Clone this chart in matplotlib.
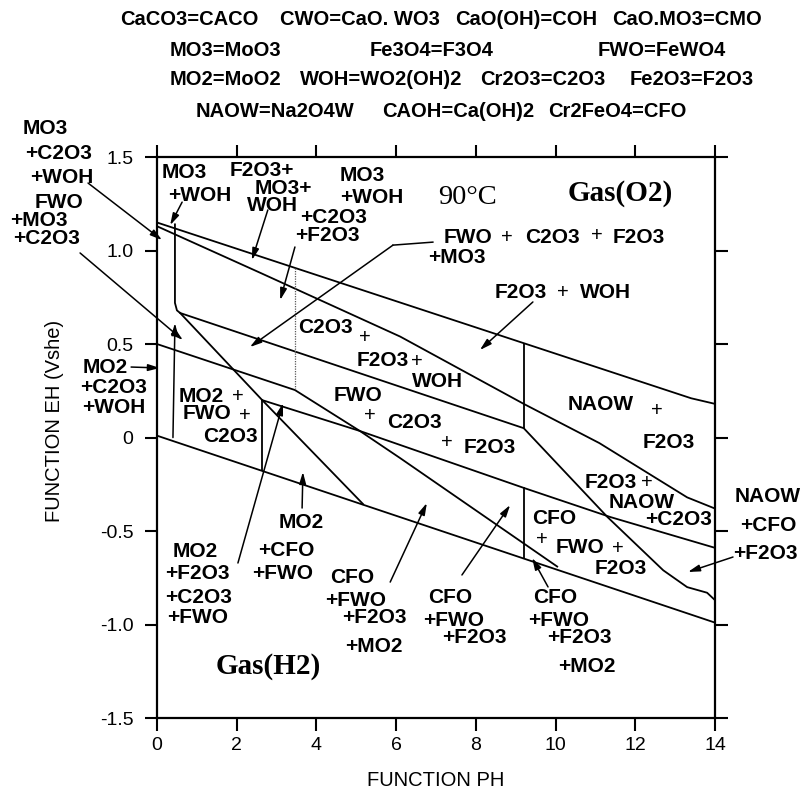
import matplotlib.pyplot as plt

plt.rcParams['font.family'] = ['Liberation Sans', 'DejaVu Sans']

# stability boundaries, pH vs Eh (V)
o2_ph = [0, 13.4, 14]
o2_eh = [1.15, 0.21, 0.18]
h2_ph = [0, 14]
h2_eh = [0.01, -0.99]
woh_ph = [0, 2.6, 6.1, 9.2, 11.1, 13.3, 14]
woh_eh = [1.13, 0.88, 0.54, 0.18, -0.03, -0.32, -0.38]
mo3_ph = [0.45, 0.45, 0.50, 0.58, 9.2, 11.3, 12.7, 13.3, 13.8, 14]
mo3_eh = [1.14, 0.72, 0.68, 0.666, 0.05, -0.425, -0.71, -0.80, -0.83, -0.87]
fwo_ph = [0, 3.46, 5.09, 6.10, 10.04]
fwo_eh = [0.50, 0.254, 0.035, -0.11, -0.69]
mo2_ph = [0.58, 2.64, 5.17]
mo2_eh = [0.666, 0.20, -0.356]
cfo_ph = [2.64, 5.09, 9.21, 11.37, 14]
cfo_eh = [0.20, 0.035, -0.27, -0.425, -0.59]

# vertical boundaries: pH, Eh top, Eh bottom
box_ph, box_eh = 2.64, [0.20, -0.175]
dot_ph, dot_eh = 3.46, [0.906, 0.254]
naow_ph, naow_eh = 9.2, [0.50, 0.05]
cfo2_ph, cfo2_eh = 9.21, [-0.27, -0.645]

xticks = [0, 2, 4, 6, 8, 10, 12, 14]
yticks = [1.5, 1.0, 0.5, 0, -0.5, -1.0, -1.5]
ytick_labels = ['1.5', '1.0', '0.5', '0', '-0.5', '-1.0', '-1.5']

fig = plt.figure(figsize=(8.11, 7.94), dpi=100)
ax = fig.add_axes([0.1936, 0.0957, 0.6881, 0.7065])

lw = 1.3
for xs, ys in [(o2_ph, o2_eh), (h2_ph, h2_eh), (woh_ph, woh_eh), (mo3_ph, mo3_eh),
               (fwo_ph, fwo_eh), (mo2_ph, mo2_eh), (cfo_ph, cfo_eh)]:
    ax.plot(xs, ys, color='k', lw=lw, solid_joinstyle='round')
for x, ys in [(box_ph, box_eh), (naow_ph, naow_eh), (cfo2_ph, cfo2_eh)]:
    ax.plot([x, x], ys, color='k', lw=lw)
ax.plot([dot_ph, dot_ph], dot_eh, color='0.35', lw=0.9, ls=(0, (1, 1)))

ax.set_xlim(0, 14)
ax.set_ylim(-1.5, 1.5)
ax.set_xticks(xticks)
ax.set_yticks(yticks)
ax.set_yticklabels(ytick_labels)
for s in ax.spines.values():
    s.set_linewidth(1.6)
ax.tick_params(direction='out', length=9, width=1.5, top=True, right=True,
               labelsize=14)
ax.tick_params(axis='y', pad=8)
ax.tick_params(axis='x', pad=5)

fig.text(0.5376, 0.0176, 'FUNCTION PH', ha='center', va='center', fontsize=14.5)
fig.text(0.0678, 0.4698, 'FUNCTION EH (Vshe)', rotation=90, ha='center',
         va='center', fontsize=14.5)

# abbreviations above the plot
legend_rows = [
    (0.975, [(120, 'CaCO3=CACO'), (280, 'CWO=CaO. WO3'), (455, 'CaO(OH)=COH'),
             (612, 'CaO.MO3=CMO')]),
    (0.937, [(170, 'MO3=MoO3'), (370, 'Fe3O4=F3O4'), (598, 'FWO=FeWO4')]),
    (0.900, [(170, 'MO2=MoO2'), (300, 'WOH=WO2(OH)2'), (480, 'Cr2O3=C2O3'),
             (630, 'Fe2O3=F2O3')]),
    (0.859, [(196, 'NAOW=Na2O4W'), (382, 'CAOH=Ca(OH)2'), (548, 'Cr2FeO4=CFO')]),
]
for y, items in legend_rows:
    for x, s in items:
        fig.text(x / 811, y, s, ha='left', va='center', fontsize=14.5,
                 fontweight='bold')

labels = [
    (0.125, 1.42, 'MO3'), (0.28, 1.297, '+WOH'),
    (1.83, 1.43, 'F2O3+'), (2.46, 1.334, 'MO3+'), (2.26, 1.243, 'WOH'),
    (4.59, 1.404, 'MO3'), (4.59, 1.286, '+WOH'), (3.59, 1.179, '+C2O3'),
    (3.46, 1.083, '+F2O3'),
    (7.18, 1.072, 'FWO'), (9.23, 1.072, 'C2O3'), (11.42, 1.072, 'F2O3'),
    (6.80, 0.965, '+MO3'),
    (8.48, 0.778, 'F2O3'), (10.61, 0.778, 'WOH'),
    (3.54, 0.586, 'C2O3'), (5.02, 0.414, 'F2O3'), (6.40, 0.297, 'WOH'),
    (4.42, 0.227, 'FWO'), (5.77, 0.083, 'C2O3'), (7.68, -0.051, 'F2O3'),
    (10.29, 0.179, 'NAOW'), (12.19, -0.024, 'F2O3'),
    (10.74, -0.238, 'F2O3'), (11.32, -0.345, 'NAOW'), (12.24, -0.441, '+C2O3'),
    (9.41, -0.435, 'CFO'), (9.99, -0.586, 'FWO'), (10.99, -0.698, 'F2O3'),
    (0.53, 0.222, 'MO2'), (0.65, 0.131, 'FWO'), (1.15, 0.008, 'C2O3'),
    (0.38, -0.612, 'MO2'), (0.20, -0.725, '+F2O3'), (0.20, -0.853, '+C2O3'),
    (0.25, -0.965, '+FWO'),
    (3.04, -0.457, 'MO2'), (2.53, -0.602, '+CFO'), (2.38, -0.725, '+FWO'),
    (4.34, -0.746, 'CFO'), (4.22, -0.869, '+FWO'), (4.64, -0.965, '+F2O3'),
    (4.72, -1.120, '+MO2'),
    (6.80, -0.853, 'CFO'), (6.67, -0.976, '+FWO'), (7.15, -1.072, '+F2O3'),
    (9.43, -0.853, 'CFO'), (9.31, -0.976, '+FWO'), (9.79, -1.072, '+F2O3'),
    (10.06, -1.227, '+MO2'),
    (-3.36, 1.655, 'MO3'), (-3.31, 1.521, '+C2O3'), (-3.19, 1.393, '+WOH'),
    (-3.06, 1.259, 'FWO'), (-3.69, 1.163, '+MO3'), (-3.61, 1.067, '+C2O3'),
    (-1.86, 0.377, 'MO2'), (-1.93, 0.270, '+C2O3'), (-1.88, 0.163, '+WOH'),
    (14.50, -0.318, 'NAOW'), (14.63, -0.468, '+CFO'), (14.45, -0.618, '+F2O3'),
]
for x, y, s in labels:
    ax.text(x, y, s, ha='left', va='center', fontsize=15, fontweight='bold',
            clip_on=False)

# loose plus signs between species names
pluses = [
    (8.78, 1.072), (11.04, 1.080), (10.19, 0.778), (5.22, 0.537), (6.52, 0.404),
    (5.34, 0.120), (7.28, -0.029), (12.54, 0.147), (12.29, -0.243),
    (9.66, -0.545), (11.57, -0.591), (2.03, 0.222), (2.21, 0.118),
]
for x, y in pluses:
    ax.text(x, y, '+', ha='center', va='center', fontsize=14.5)

ax.text(7.05, 1.286, '90°C', family='Liberation Serif', fontsize=20.5,
        ha='left', va='center')
ax.text(10.31, 1.307, 'Gas(O2)', family='Liberation Serif', fontweight='bold',
        fontsize=21, ha='left', va='center')
ax.text(1.46, -1.227, 'Gas(H2)', family='Liberation Serif', fontweight='bold',
        fontsize=21, ha='left', va='center')

arrows = [
    ((-1.73, 1.361), (0.125, 1.056)),
    ((-1.93, 0.987), (0.65, 0.521)),
    ((-0.65, 0.377), (0.075, 0.372)),
    ((0.63, 1.259), (0.33, 1.136)),
    ((2.78, 1.217), (2.38, 0.949)),
    ((3.46, 1.019), (3.09, 0.735)),
    ((5.92, 1.029), (2.33, 0.484)),
    ((9.43, 0.725), (8.10, 0.468)),
    ((2.03, -0.671), (3.16, 0.184)),
    ((3.64, -0.377), (3.66, -0.184)),
    ((5.85, -0.773), (6.77, -0.350)),
    ((7.65, -0.735), (8.86, -0.361)),
    ((9.81, -0.799), (9.41, -0.644)),
    ((14.45, -0.639), (13.32, -0.719)),
    ((0.40, 0.0), (0.45, 0.612)),
]
for start, tip in arrows:
    ax.annotate('', xy=tip, xytext=start, annotation_clip=False,
                arrowprops=dict(arrowstyle='-|>,head_length=0.7,head_width=0.2',
                                color='k', lw=1.1, shrinkA=0, shrinkB=0))
ax.plot([6.92, 5.92], [1.045, 1.029], color='k', lw=1.1)

fig.savefig('out.png', dpi=100)
